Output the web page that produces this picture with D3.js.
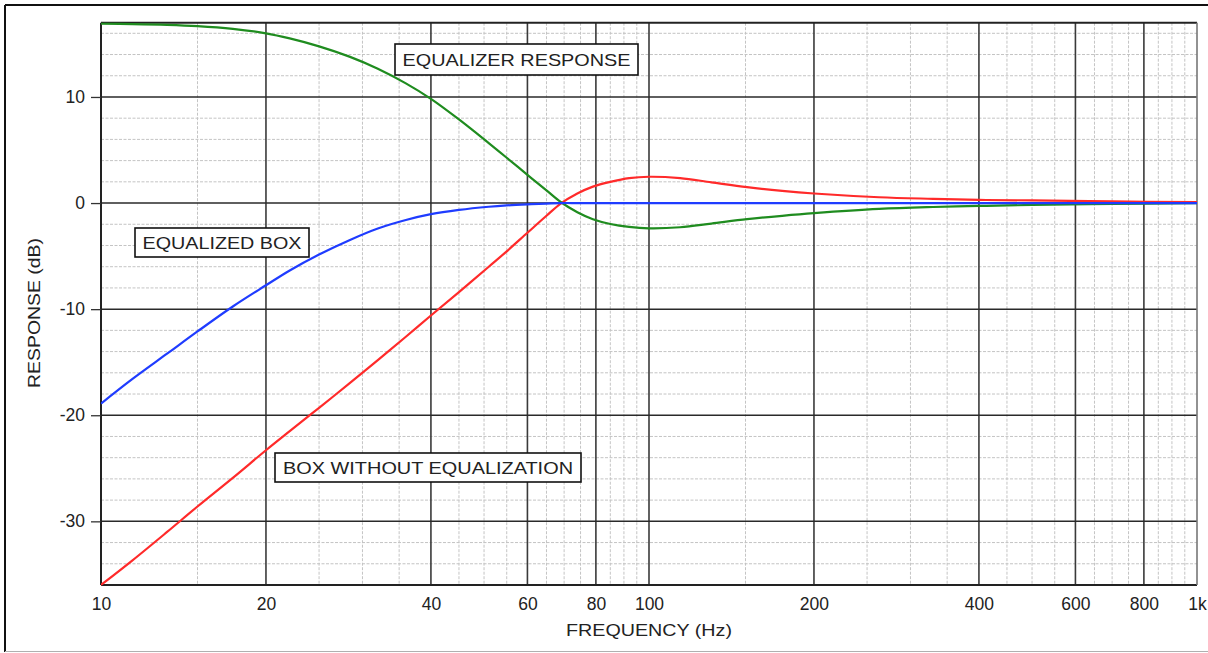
<!DOCTYPE html>
<html>
<head>
<meta charset="utf-8">
<script src="https://cdn.jsdelivr.net/npm/d3@7"></script>
<style>
  html, body { margin: 0; padding: 0; background: #fff; }
  svg { display: block; }
  text { font-family: "Liberation Sans", Arial, Helvetica, sans-serif; fill: #222; }
</style>
</head>
<body>
<svg id="chart" width="1208" height="653"></svg>
<script>
// ---- data ----
const freqs      = [10, 11.4, 13.2, 15, 17.4, 20, 22.1, 25, 28.4, 32, 36, 40, 45, 51, 55, 60, 65, 69, 74, 79, 85, 92, 100, 114, 130, 151, 175, 200, 263, 330, 400, 500, 700, 1000];
const boxNoEq    = [-36, -33.7, -31.0, -28.6, -25.9, -23.3, -21.5, -19.3, -17.0, -14.8, -12.6, -10.6, -8.4, -6.0, -4.55, -2.8, -1.2, -0.05, 0.9, 1.55, 2.0, 2.35, 2.48, 2.35, 1.95, 1.5, 1.15, 0.9, 0.55, 0.4, 0.3, 0.25, 0.15, 0.1];
const eqResponse = [16.9, 16.87, 16.8, 16.68, 16.42, 16.0, 15.52, 14.77, 13.8, 12.66, 11.28, 9.82, 7.88, 5.65, 4.27, 2.66, 1.2, 0.1, -0.86, -1.52, -1.97, -2.25, -2.38, -2.28, -1.93, -1.52, -1.2, -0.95, -0.55, -0.37, -0.27, -0.18, -0.08, 0];
const eqBox      = [-18.9, -16.6, -14.2, -12.1, -9.75, -7.75, -6.35, -4.85, -3.5, -2.4, -1.6, -1.05, -0.65, -0.35, -0.22, -0.12, -0.05, 0, 0, 0, 0, 0, 0, 0, 0, 0, 0, 0, 0, 0, 0, 0, 0, 0];

const xTickValues = [10, 20, 40, 60, 80, 100, 200, 400, 600, 800, 1000];
const xTickLabels = ["10", "20", "40", "60", "80", "100", "200", "400", "600", "800", "1k"];
const xMinorGrid  = [15, 25, 30, 35, 45, 50, 55, 65, 70, 75, 85, 90, 95, 150, 250, 300, 350, 450, 500, 550, 650, 700, 750, 850, 900, 950];
const yTickValues = [10, 0, -10, -20, -30];
const yTickLabels = ["10", "0", "-10", "-20", "-30"];
const yMinorGrid  = [16, 14, 12, 8, 6, 4, 2, -2, -4, -6, -8, -12, -14, -16, -18, -22, -24, -26, -28, -32, -34];

const seriesNames = ["BOX WITHOUT EQUALIZATION", "EQUALIZER RESPONSE", "EQUALIZED BOX"];

// ---- layout ----
const svg = d3.select("#chart");
const plot = { left: 101, right: 1197, top: 22.7, bottom: 585 };

const x = d3.scaleLog().domain([10, 1000]).range([plot.left, plot.right]);
const y = d3.scaleLinear().domain([-36, 17]).range([plot.bottom, plot.top]);

// outer frame
svg.append("line").attr("x1", 5).attr("x2", 1208).attr("y1", 5).attr("y2", 5).attr("stroke", "#111").attr("stroke-width", 2);
svg.append("line").attr("x1", 5).attr("x2", 5).attr("y1", 5).attr("y2", 652).attr("stroke", "#111").attr("stroke-width", 2);
svg.append("line").attr("x1", 5).attr("x2", 1208).attr("y1", 651.5).attr("y2", 651.5).attr("stroke", "#b0b0b0").attr("stroke-width", 1);

const g = svg.append("g");

// minor grid
g.selectAll(".vminor").data(xMinorGrid).join("line")
  .attr("x1", d => x(d)).attr("x2", d => x(d))
  .attr("y1", plot.top).attr("y2", plot.bottom)
  .attr("stroke", "#c4c4c4").attr("stroke-width", 1).attr("stroke-dasharray", "3,1.5");
g.selectAll(".hminor").data(yMinorGrid).join("line")
  .attr("x1", plot.left).attr("x2", plot.right)
  .attr("y1", d => y(d)).attr("y2", d => y(d))
  .attr("stroke", "#c4c4c4").attr("stroke-width", 1).attr("stroke-dasharray", "3,1.5");

// major grid
g.selectAll(".vmajor").data(xTickValues.filter(d => d > 10 && d < 1000)).join("line")
  .attr("x1", d => x(d)).attr("x2", d => x(d))
  .attr("y1", plot.top).attr("y2", plot.bottom)
  .attr("stroke", "#3a3a3a").attr("stroke-width", 1.6);
g.selectAll(".hmajor").data(yTickValues).join("line")
  .attr("x1", plot.left).attr("x2", plot.right)
  .attr("y1", d => y(d)).attr("y2", d => y(d))
  .attr("stroke", "#2a2a2a").attr("stroke-width", 1.5);

// plot border
g.append("line").attr("x1", plot.left).attr("x2", plot.right).attr("y1", plot.top).attr("y2", plot.top).attr("stroke", "#222").attr("stroke-width", 2);
g.append("line").attr("x1", plot.left).attr("x2", plot.right).attr("y1", plot.bottom).attr("y2", plot.bottom).attr("stroke", "#222").attr("stroke-width", 2);
g.append("line").attr("x1", plot.left).attr("x2", plot.left).attr("y1", plot.top).attr("y2", plot.bottom).attr("stroke", "#222").attr("stroke-width", 2);
g.append("line").attr("x1", plot.right).attr("x2", plot.right).attr("y1", plot.top).attr("y2", plot.bottom).attr("stroke", "#777").attr("stroke-width", 1.6);

// y axis ticks + labels
const yAxis = d3.axisLeft(y).tickValues(yTickValues).tickSize(10).tickPadding(6)
  .tickFormat((d, i) => yTickLabels[i]);
const yg = svg.append("g").attr("transform", `translate(${plot.left},0)`).call(yAxis);
yg.select(".domain").remove();
yg.selectAll(".tick line").attr("stroke", "#333").attr("stroke-width", 1.3);
yg.selectAll(".tick text").attr("font-size", 17.5).attr("fill", "#222")
  .style("font-family", '"Liberation Sans", Arial, sans-serif');

// x axis labels
const xAxis = d3.axisBottom(x).tickValues(xTickValues).tickSize(0).tickPadding(13)
  .tickFormat((d, i) => xTickLabels[i]);
const xg = svg.append("g").attr("transform", `translate(0,${plot.bottom})`).call(xAxis);
xg.select(".domain").remove();
xg.selectAll(".tick text").attr("font-size", 17.5).attr("fill", "#222")
  .style("font-family", '"Liberation Sans", Arial, sans-serif');

// axis titles
svg.append("text").attr("x", (plot.left + plot.right) / 2).attr("y", 636)
  .attr("text-anchor", "middle").attr("font-size", 17)
  .attr("textLength", 166).attr("lengthAdjust", "spacingAndGlyphs")
  .text("FREQUENCY (Hz)");
svg.append("text").attr("transform", "translate(39.5,313) rotate(-90)")
  .attr("text-anchor", "middle").attr("font-size", 17)
  .attr("textLength", 150).attr("lengthAdjust", "spacingAndGlyphs")
  .text("RESPONSE (dB)");

// curves
const line = d3.line().x(d => x(d[0])).y(d => y(d[1])).curve(d3.curveCatmullRom.alpha(0.5));
const series = [
  { name: seriesNames[0], values: boxNoEq, color: "#ff2a2a" },
  { name: seriesNames[1], values: eqResponse, color: "#1f8c1f" },
  { name: seriesNames[2], values: eqBox, color: "#1f3cff" }
];
svg.append("defs").append("clipPath").attr("id", "clip")
  .append("rect").attr("x", plot.left).attr("y", plot.top - 2)
  .attr("width", plot.right - plot.left).attr("height", plot.bottom - plot.top + 4);
svg.append("g").attr("clip-path", "url(#clip)")
  .selectAll("path").data(series).join("path")
  .attr("d", s => line(freqs.map((f, i) => [f, s.values[i]])))
  .attr("fill", "none").attr("stroke", s => s.color).attr("stroke-width", 2.2)
  .attr("stroke-linejoin", "round");

// boxed labels (anchored in data space)
const boxes = [
  { text: seriesNames[1], f: x.invert(395), db: y.invert(44), w: 243, h: 31, tl: 228 },
  { text: seriesNames[2], f: x.invert(135), db: y.invert(228), w: 174, h: 29, tl: 159 },
  { text: seriesNames[0], f: x.invert(275), db: y.invert(453), w: 306, h: 29, tl: 290 }
];
const bg = svg.append("g");
boxes.forEach(b => {
  const bx = x(b.f), by = y(b.db);
  bg.append("rect").attr("x", bx).attr("y", by).attr("width", b.w).attr("height", b.h)
    .attr("fill", "#fff").attr("stroke", "#111").attr("stroke-width", 1.6);
  bg.append("text").attr("x", bx + b.w / 2).attr("y", by + b.h / 2 + 6.3)
    .attr("text-anchor", "middle").attr("font-size", 17)
    .attr("textLength", b.tl).attr("lengthAdjust", "spacingAndGlyphs")
    .text(b.text);
});
</script>
</body>
</html>
